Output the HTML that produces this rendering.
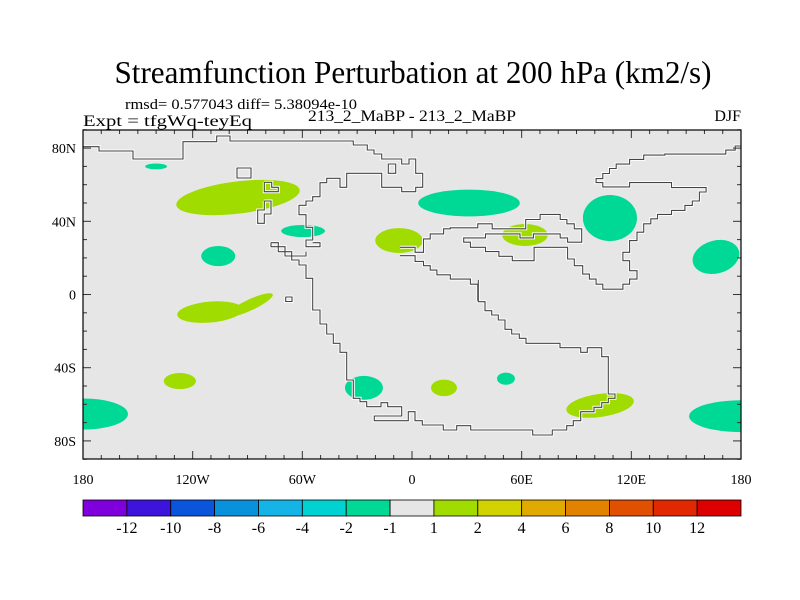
<!DOCTYPE html>
<html><head><meta charset="utf-8"><style>
html,body{margin:0;padding:0;background:#fff}
svg{display:block}
text{font-family:"Liberation Serif",serif;fill:#000}
</style></head><body>
<svg id="chart" width="800" height="600" viewBox="0 0 800 600" xmlns="http://www.w3.org/2000/svg">
<defs><clipPath id="plotclip"><rect x="83" y="130" width="658" height="329"/></clipPath></defs>
<text x="413" y="83" font-size="32" text-anchor="middle" textLength="597" lengthAdjust="spacingAndGlyphs">Streamfunction Perturbation at 200 hPa (km2/s)</text>
<text x="125" y="109" font-size="15" textLength="232" lengthAdjust="spacingAndGlyphs">rmsd= 0.577043 diff= 5.38094e-10</text>
<text x="83" y="126" font-size="16" textLength="169" lengthAdjust="spacingAndGlyphs">Expt = tfgWq-teyEq</text>
<text x="308" y="121" font-size="16" textLength="208" lengthAdjust="spacingAndGlyphs">213_2_MaBP - 213_2_MaBP</text>
<text x="741" y="121" font-size="16" text-anchor="end">DJF</text>
<rect x="83" y="130" width="658" height="329" fill="#e6e6e6"/>
<g id="blobs" clip-path="url(#plotclip)"></g>
<g id="coast" fill="none" stroke="#fff" stroke-width="3" clip-path="url(#plotclip)"></g>
<g id="coast2" fill="none" stroke="#444" stroke-width="1.1" clip-path="url(#plotclip)"></g>
<g id="ticks" stroke="#333" stroke-width="1"></g>
<rect x="83" y="130" width="658" height="329" fill="none" stroke="#000" stroke-width="1.2"/>
<g id="labels"></g>
<g id="colorbar"></g>
</svg>
<script>
// Contour blob data (lon/lat centres, extents in degrees, value)
const blobLons = [-95.2,-140,-106,-59.6,-110.5,-88.6,-7.1,31.2,61.8,108.3,166.3,-127,-26.3,17.5,51.4,102.9,-180,180];
const blobLats = [53,70,21,34.7,-9.6,-5.7,29.5,50,32.5,41.8,20.5,-47.3,-51,-51,-46,-60.6,-65.3,-66.5];
const blobHalfWidths = [34,6,9.3,12,18,13.7,13,27.8,12.5,14.8,13,8.8,10.4,7.1,4.9,18.6,24.6,28.4];
const blobHalfHeights = [8.8,1.6,5.5,3.3,5.7,3,6.8,7.3,6,12.6,9,4.4,6.5,4.5,3.3,6.3,8.5,8.7];
const blobTilts = [-7,0,0,0,-5,-25,0,0,0,0,-15,0,0,0,0,-8,0,0];
const blobValues = [1.5,-1.5,-1.5,-1.5,1.5,1.5,1.5,-1.5,1.5,-1.5,-1.5,1.5,-1.5,1.5,-1.5,1.5,-1.5,-1.5];
const levelLabels = ["-12","-10","-8","-6","-4","-2","-1","1","2","4","6","8","10","12"];
const levelValues = [-12,-10,-8,-6,-4,-2,-1,1,2,4,6,8,10,12];
const levelColors = ["#7f00dc","#3c14dc","#0a55dc","#0a91dc","#14b4e6","#00d2d2","#00d896","#e6e6e6","#a0dc00","#d2d200","#e1aa00","#e18200","#e15000","#e12800","#dc0000"];
const lonTicks = [-180,-120,-60,0,60,120,180];
const lonTickLabels = ["180","120W","60W","0","60E","120E","180"];
const latTicks = [80,40,0,-40,-80];
const latTickLabels = ["80N","40N","0","40S","80S"];

const NS="http://www.w3.org/2000/svg";
const X0=83,X1=741,Y0=130,Y1=459;
const pxPerDeg=(X1-X0)/360;
function xScale(lon){return X0+(lon+180)*pxPerDeg;}
function yScale(lat){return 294.5-lat*1.83;}
function colorFor(v){let i=0;while(i<levelValues.length&&v>=levelValues[i])i++;return levelColors[i];}
function mk(tag,attrs,parent){const e=document.createElementNS(NS,tag);for(const k in attrs)e.setAttribute(k,attrs[k]);parent.appendChild(e);return e;}

const gB=document.getElementById('blobs');
blobLons.forEach((lon,i)=>{
  const cx=xScale(lon),cy=yScale(blobLats[i]);
  const e=mk('ellipse',{cx:cx,cy:cy,rx:blobHalfWidths[i]*pxPerDeg,ry:blobHalfHeights[i]*1.83,fill:colorFor(blobValues[i]),transform:`rotate(${blobTilts[i]} ${cx} ${cy})`},gB);
  
  
});

function tr(pts,ox,oy,s){const o=[];for(let i=0;i<pts.length;i+=2)o.push([ox+pts[i]/s,oy+pts[i+1]/s]);return o;}
const coastLines=[];
coastLines.push([[83,146.7],[99,146.7],[99,151],[133,151],[133,159],[183,159],[183,141.7],[216.7,141.7],[216.7,136],[230,136],[230,141]].concat(
 tr([0,3,370,3,370,15,412,15,412,30,432,30,432,42,455,42,455,57,515,57,515,72,537,72,537,57,557,57,557,100,578,100,578,142,557,142,557,155,515,155,515,142,455,142,455,100,350,100,350,142,330,142,330,115,290,115,290,128,270,128,270,170,248,170,248,183,228,183,228,196,207,196,207,224,228,224,228,262,248,262,248,300,228,300,228,320,270,320,270,308,248,308],230,140,3)));
coastLines.push(tr([123,308,145,308,145,320,165,320,165,335,185,335,185,348,228,348,228,335],230,140,3));
coastLines.push(tr([123,308,123,320,145,320,145,335,165,335,165,348,185,348,185,360,207,360,207,375,228,375,228,415,248,415,248,510,270,510],230,140,3).concat(
 tr([210,92,210,132,230,132,230,162,250,162,250,190,270,190,270,217,290,217,290,300,310,300,310,355,330,355,330,365,350,365,350,380,393,380,393,368,413,368,413,380,455,380,455,408,373,408,373,422,475,422,475,395,495,395,495,422,517,422,517,435,580,435,580,450,620,450,620,437,662,437,662,450,848,450,848,465,907,465,907,450,950,450,950,437,970,437,970,422,992,422,992,395,1032,395,1032,382,1055,382,1055,368,1075,368,1075,355,1095,355,1095,342,1075,342,1075,230,1055,230,1055,203,1012,203,1012,217,992,217,992,203,930,203,930,190,828,190,828,175,808,175,808,162,785,162,785,148,765,148,765,120,745,120,745,105,725,105,725,92,705,92,705,65,685,65,685,0],250,280,3)));
const s4=2.983;
coastLines.push(tr([0,345,45,345,45,362,70,362,70,375,90,375,90,388,110,388,110,402,150,402,150,415,210,415,210,430,232,430,232,480],400,140,s4));
coastLines.push(tr([0,320,45,320,45,335,70,335,70,295,90,295,90,280,130,280,130,265,150,265,150,262,232,262,232,250,275,250,275,265,375,265,375,237,418,237,418,222,478,222,478,237,498,237,498,250,520,250,520,265,542,265,542,305,500,305,500,292,478,292,478,280,398,280,398,292,358,292,358,280,255,280,255,292,210,292,190,292,190,305,210,305,210,320,255,320,255,333,295,333,295,347,335,347,335,360,400,360,400,320,480,320,500,320,500,355,520,355,520,375,545,375,545,400,565,400,565,415,585,415,585,430,605,430,605,445,665,445,665,430,685,430,685,415,707,415,707,390,685,390,685,360,665,360,665,335,685,335,685,300,707,300,707,275,727,275,727,250,748,250,748,235,768,235,768,222,810,222,810,210,850,210,850,195,872,195,872,182,893,182,893,155,913,155,913,142,810,142,810,127,685,127,685,140,605,140,605,127,585,127,585,115,605,115,605,100,625,100,625,85,645,85,645,72,685,72,685,58,727,58,727,45,790,45,790,42,972,42,972,30,1000,30,1000,18,1029,18],400,140,s4));
coastLines.push([[237,168],[251,168],[251,178],[237,178],[237,168]]);
coastLines.push(tr([103,127,125,127,125,142,145,142,145,155,103,155,103,127],230,140,3));
coastLines.push(tr([103,183,123,183,123,222,103,222,103,250,83,250,83,210,103,210,103,183],230,140,3));
coastLines.push(tr([475,72,497,72,497,100,475,100,475,72],230,140,3));
coastLines.push([[285.7,297],[292,297],[292,301.5],[285.7,301.5],[285.7,297]]);
['coast','coast2'].forEach(id=>{
  const g=document.getElementById(id);
  coastLines.forEach(pts=>{
    const p=mk('polyline',{points:pts.map(q=>q[0].toFixed(1)+','+q[1].toFixed(1)).join(' ')},g);
    
    
  });
});

// Ticks
const gT=document.getElementById('ticks');
for(let lon=-180;lon<=180;lon+=10){
  const x=xScale(lon),len=(lon%60===0)?8:4;
  mk('line',{x1:x,y1:Y1,x2:x,y2:Y1-len},gT);
  mk('line',{x1:x,y1:Y0,x2:x,y2:Y0+len},gT);
}
for(let lat=-90;lat<=90;lat+=10){
  const y=yScale(lat),len=(lat%40===0)?8:4;
  mk('line',{x1:X0,y1:y,x2:X0+len,y2:y},gT);
  mk('line',{x1:X1,y1:y,x2:X1-len,y2:y},gT);
}
const gL=document.getElementById('labels');
lonTicks.forEach((lon,i)=>{
  const t=mk('text',{x:xScale(lon),y:484,'font-size':14,'text-anchor':'middle'},gL);
  t.textContent=lonTickLabels[i];
  
  
});
latTicks.forEach((lat,i)=>{
  const t=mk('text',{x:76,y:yScale(lat)+5,'font-size':14,'text-anchor':'end'},gL);
  t.textContent=latTickLabels[i];
  
  
});

// Colorbar
const gC=document.getElementById('colorbar');
const bw=(X1-X0)/levelColors.length;
levelColors.forEach((c,i)=>{
  const r=mk('rect',{x:X0+i*bw,y:500,width:bw,height:16,fill:c,stroke:'#000','stroke-width':0.8},gC);
  
  
});
levelLabels.forEach((l,i)=>{
  const t=mk('text',{x:X0+(i+1)*bw,y:533,'font-size':16,'text-anchor':'middle'},gC);
  t.textContent=l;
  
  
});
</script>
</body></html>
